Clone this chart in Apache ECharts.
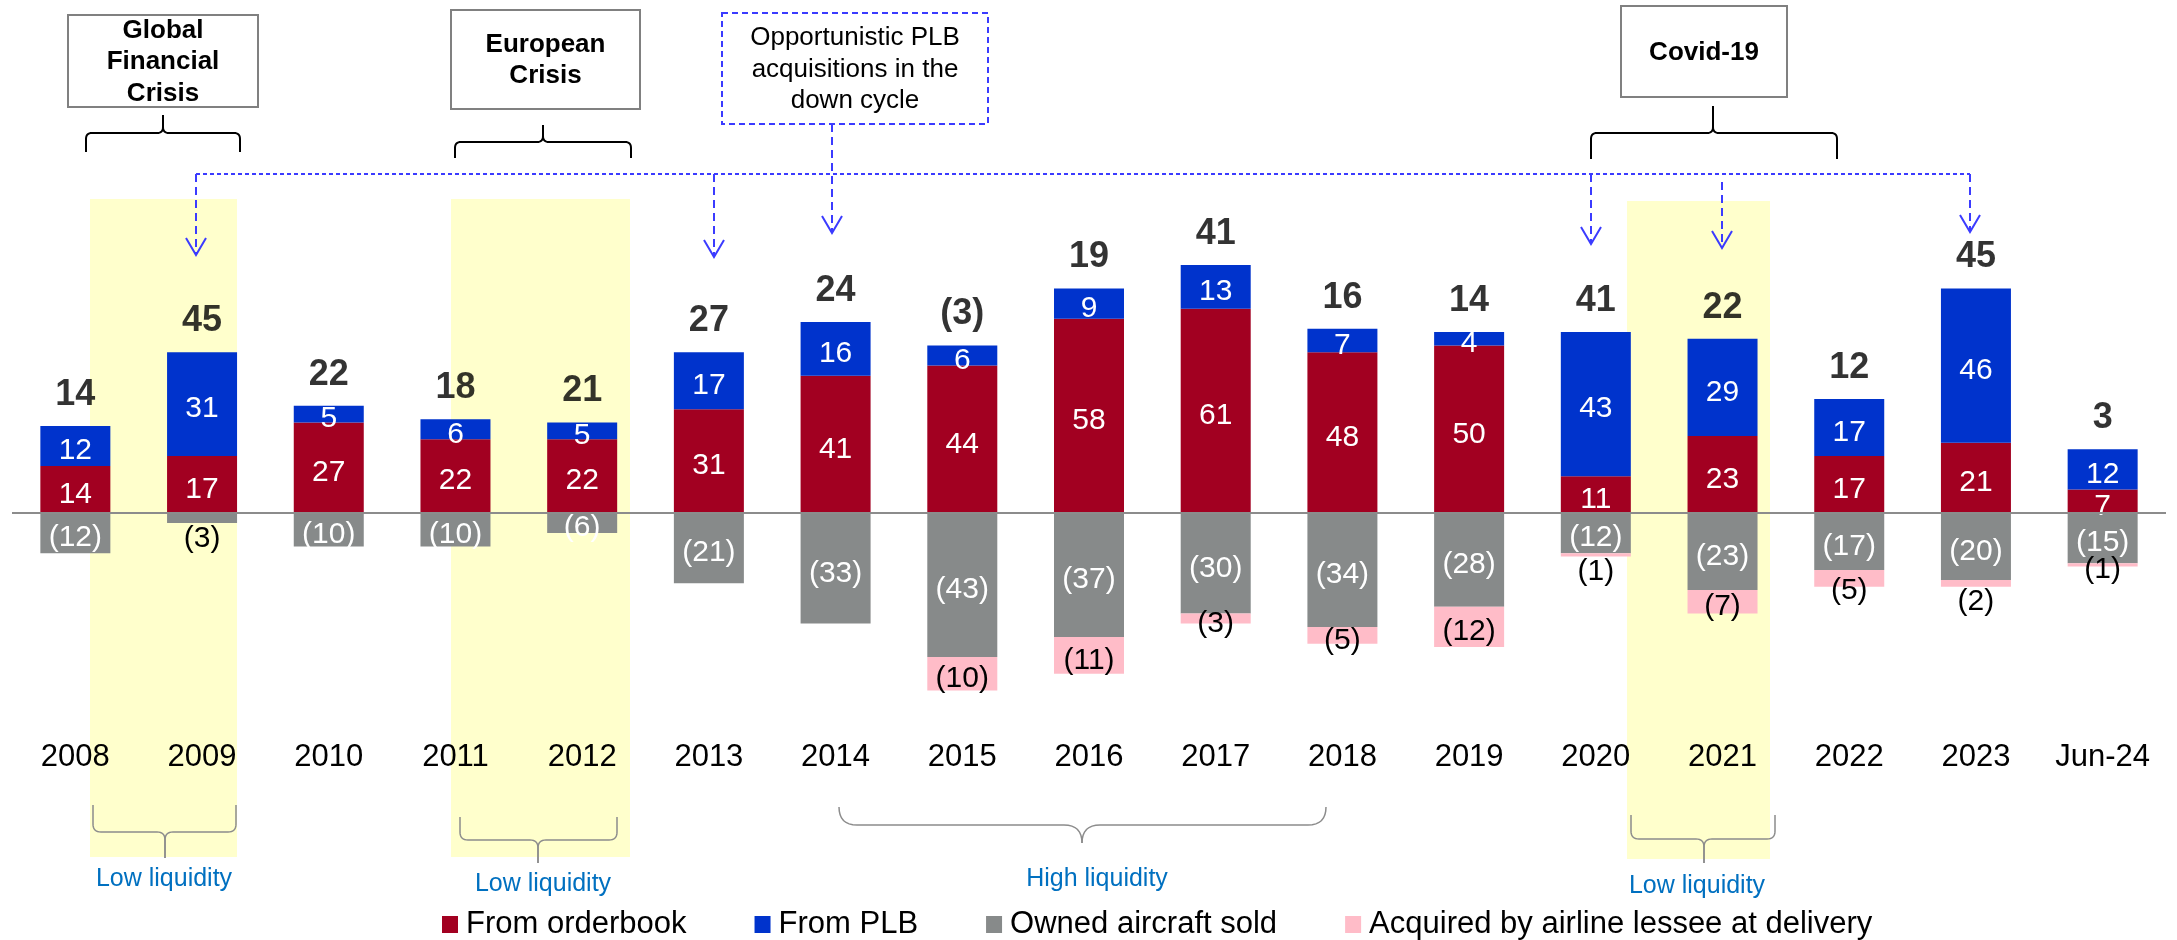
<!DOCTYPE html>
<html style="height:100%;width:100%">
<head>
	<meta charset="UTF-8">
	<title>Aircraft additions by source</title>
	<style type="text/css">
		body{ margin:0px; background-color:#FFFFFF; }
		#container{ width:2177px; height:940px; }
	</style>
</head>
<body>
<div id="container"></div>

<script src="https://cdn.jsdelivr.net/npm/echarts@6/dist/echarts.min.js"></script>
<script type="text/javascript">

var years = ['2008', '2009', '2010', '2011', '2012', '2013', '2014', '2015', '2016',
	'2017', '2018', '2019', '2020', '2021', '2022', '2023', 'Jun-24'];
var fromOrderbook = [14, 17, 27, 22, 22, 31, 41, 44, 58, 61, 48, 50, 11, 23, 17, 21, 7];
var fromPLB = [12, 31, 5, 6, 5, 17, 16, 6, 9, 13, 7, 4, 43, 29, 17, 46, 12];
var ownedSold = [-12, -3, -10, -10, -6, -21, -33, -43, -37, -30, -34, -28, -12, -23, -17, -20, -15];
var acquiredByLessee = [0, 0, 0, 0, 0, 0, 0, -10, -11, -3, -5, -12, -1, -7, -5, -2, -1];
var netChange = [14, 45, 22, 18, 21, 27, 24, -3, 19, 41, 16, 14, 41, 22, 12, 45, 3];
var seriesNames = ['From orderbook', 'From PLB', 'Owned aircraft sold', 'Acquired by airline lessee at delivery'];

var FONT = "'Liberation Sans', Arial, sans-serif";
var colorsList = ['#A20021', '#0033CC', '#878A8A', '#FFBCC8'];

var fmt = function(v) {
	return v < 0 ? '(' + (-v) + ')' : '' + v;
};

var insideLabel = function(color) {
	return {
		show: true, position: 'inside', color: color, fontSize: 30, fontFamily: FONT,
		offset: [0, 5],
		formatter: function(p) { return fmt(p.value); }
	};
};

// small bars where the figure puts the number under the bar
var ownedData = ownedSold.map(function(v, i) {
	if (i === 1) return { value: v, label: { position: 'bottom', distance: 1, offset: [0, 0], color: '#000000' } };
	return v;
});
var acquiredData = acquiredByLessee.map(function(v, i) {
	if (v === 0) return { value: v, label: { show: false } };
	if (i === 12 || i === 15) return { value: v, label: { position: 'bottom', distance: 0, offset: [0, 0] } };
	if (i === 14) return { value: v, label: { offset: [0, 12] } };
	return v;
});
var topData = fromOrderbook.map(function(v, i) { return v + fromPLB[i]; });

// curly brace as two polylines, tip points up or down
var bezier = function(p0, c, p1, pts) {
	for (var t = 1; t <= 8; t++) {
		var u = t / 8;
		pts.push([(1 - u) * (1 - u) * p0[0] + 2 * u * (1 - u) * c[0] + u * u * p1[0],
			(1 - u) * (1 - u) * p0[1] + 2 * u * (1 - u) * c[1] + u * u * p1[1]]);
	}
};
var brace = function(x1, x2, yEnd, yMid, xTip, yTip, r, color, width) {
	var s = yTip > yMid ? 1 : -1;
	var halves = [];
	[[x1, 1], [x2, -1]].forEach(function(h) {
		var x = h[0], d = h[1];
		var pts = [[x, yEnd], [x, yMid - s * r]];
		bezier([x, yMid - s * r], [x, yMid], [x + d * r, yMid], pts);
		pts.push([xTip - d * r, yMid]);
		bezier([xTip - d * r, yMid], [xTip, yMid], [xTip, yMid + s * r], pts);
		pts.push([xTip, yTip]);
		halves.push({
			type: 'polyline', z: 100, silent: true,
			shape: { points: pts },
			style: { fill: null, stroke: color, lineWidth: width }
		});
	});
	return halves;
};

var BLUE = '#3B3BFF';
var arrow = function(x, y1, y2) {
	return [
		{ type: 'line', z: 100, silent: true, shape: { x1: x, y1: y1, x2: x, y2: y2 },
			style: { stroke: BLUE, lineWidth: 2, lineDash: [8, 5] } },
		{ type: 'polyline', z: 100, silent: true, shape: { points: [[x - 10, y2 - 17], [x, y2], [x + 10, y2 - 17]] },
			style: { fill: null, stroke: BLUE, lineWidth: 2 } }
	];
};
var box = function(x, y, w, h, text, bold, dashed) {
	return [
		{ type: 'rect', z: 100, silent: true, shape: { x: x, y: y, width: w, height: h },
			style: { fill: '#FFFFFF', stroke: dashed ? BLUE : '#808080', lineWidth: 2, lineDash: dashed ? [6, 4] : null } },
		{ type: 'text', z: 101, silent: true, x: x + w / 2, y: y + h / 2 + 1,
			style: { text: text, fill: '#000000', fontSize: 26, fontWeight: bold ? 'bold' : 'normal', fontFamily: FONT,
				lineHeight: 31.5, align: 'center', verticalAlign: 'middle' } }
	];
};
var note = function(x, y, text) {
	return { type: 'text', z: 100, silent: true, x: x, y: y,
		style: { text: text, fill: '#0070C0', fontSize: 25, fontFamily: FONT, align: 'center', verticalAlign: 'middle' } };
};
var band = function(x, y, w, h) {
	return { type: 'rect', z: -1, silent: true, shape: { x: x, y: y, width: w, height: h }, style: { fill: '#FFFFCC' } };
};

var graphics = [
	band(90, 199, 147, 658), band(451, 199, 179, 658), band(1627, 201, 143, 658),
	{ type: 'line', z: 100, silent: true, shape: { x1: 196, y1: 174, x2: 1970, y2: 174 },
		style: { stroke: BLUE, lineWidth: 2, lineDash: [4, 3] } },
	note(164, 879, 'Low liquidity'), note(543, 884, 'Low liquidity'),
	note(1097, 879, 'High liquidity'), note(1697, 886, 'Low liquidity')
];
graphics = graphics.concat(
	box(68, 15, 190, 92, 'Global\nFinancial\nCrisis', true, false),
	box(451, 10, 189, 99, 'European\nCrisis', true, false),
	box(722, 13, 266, 111, 'Opportunistic PLB\nacquisitions in the\ndown cycle', false, true),
	box(1621, 6, 166, 91, 'Covid-19', true, false),
	brace(86, 240, 152, 133, 163, 115, 6, '#000000', 2),
	brace(455, 631, 158, 142, 543, 125, 6, '#000000', 2),
	brace(1591, 1837, 159, 133, 1713, 106, 6, '#000000', 2),
	brace(93, 236, 805, 832, 165, 858, 8, '#8C8C8C', 1.5),
	brace(460, 617, 817, 840, 538, 863, 8, '#8C8C8C', 1.5),
	brace(839, 1326, 807, 825, 1082, 843, 18, '#8C8C8C', 1.5),
	brace(1631, 1775, 815, 839, 1704, 863, 8, '#8C8C8C', 1.5),
	arrow(196, 174, 255), arrow(714, 174, 257), arrow(832, 124, 233),
	arrow(1591, 174, 244), arrow(1722, 182, 248), arrow(1970, 174, 232)
);

var dom = document.getElementById("container");
var myChart = echarts.init(dom);
var option = {
	animation: false,
	textStyle: { fontFamily: FONT },
	color: colorsList,
	grid: { left: 12, right: 11, top: 211.5, bottom: 209.25 },
	legend: {
		data: seriesNames,
		left: 442, top: 909, padding: 0,
		icon: 'rect', itemWidth: 16, itemHeight: 17, itemGap: 68,
		textStyle: { fontSize: 31, color: '#000000', fontFamily: FONT, lineHeight: 26, padding: [0, 0, 4, 3] }
	},
	xAxis: {
		type: 'category',
		data: years,
		axisLine: { show: false, onZero: false },
		axisTick: { show: false },
		axisLabel: { interval: 0, fontSize: 31, color: '#000000', margin: 11, fontFamily: FONT }
	},
	yAxis: {
		type: 'value', min: -65, max: 90, show: false,
		splitLine: { show: false }
	},
	graphic: graphics,
	series: [
		{
			name: seriesNames[0], type: 'bar', stack: 'all', barWidth: 70,
			data: fromOrderbook, label: insideLabel('#FFFFFF'),
			markLine: {
				silent: true, symbol: ['none', 'none'], label: { show: false },
				lineStyle: { color: '#8C8C8C', width: 2, type: 'solid' },
				data: [{ yAxis: 0 }]
			}
		},
		{ name: seriesNames[1], type: 'bar', stack: 'all', barWidth: 70, data: fromPLB, label: insideLabel('#FFFFFF') },
		{ name: seriesNames[2], type: 'bar', stack: 'all', barWidth: 70, data: ownedData, label: insideLabel('#FFFFFF') },
		{ name: seriesNames[3], type: 'bar', stack: 'all', barWidth: 70, data: acquiredData, label: insideLabel('#000000') },
		{
			name: 'Net', type: 'scatter', symbolSize: 0, silent: true, z: 5,
			data: topData,
			label: {
				show: true, position: 'top', distance: 13, color: '#000000', fontSize: 36, fontWeight: 'bold', fontFamily: FONT,
				formatter: function(p) { return fmt(netChange[p.dataIndex]); }
			}
		}
	]
};

if (option && typeof option === "object") {
	myChart.setOption(option, true);
}

</script>
</body>
</html>
